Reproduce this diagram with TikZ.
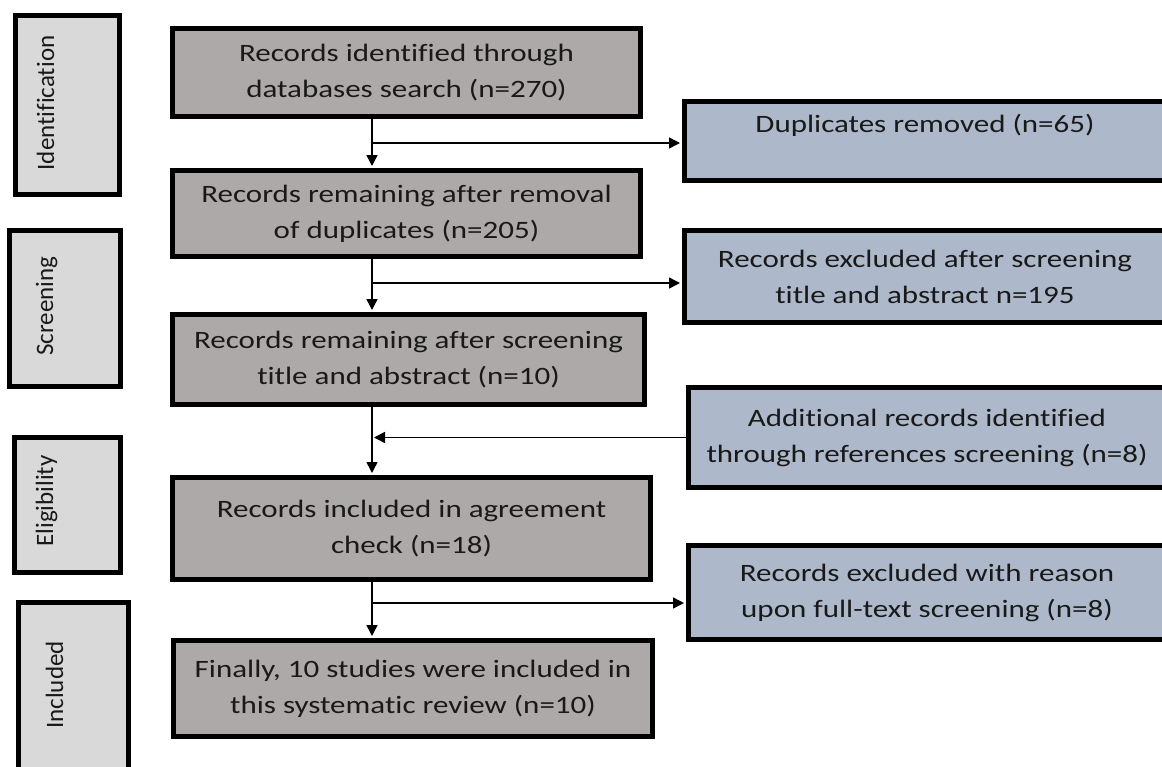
\documentclass[tikz,border=0pt]{standalone}
\usepackage{fontspec}
\setmainfont{Carlito}[FakeStretch=1.24, Ligatures=NoCommon]
\newfontfamily\phasefont{Carlito}[Ligatures=NoCommon]
\usetikzlibrary{arrows.meta}
\definecolor{graybox}{RGB}{173,169,168}
\definecolor{bluebox}{RGB}{173,185,202}
\definecolor{lightbox}{RGB}{217,217,217}
\definecolor{txt}{RGB}{25,25,25}
\tikzset{
 mainbox/.style={draw=black, line width=5pt, fill=graybox, inner sep=0pt, align=center, text=txt, font=\fontsize{25}{36}\selectfont},
 sidebox/.style={mainbox, fill=bluebox},
 phasebox/.style={draw=black, line width=5pt, fill=lightbox, inner sep=0pt},
 phaselabel/.style={rotate=90, anchor=base, text=txt, font=\phasefont\fontsize{25}{28}\selectfont, inner sep=0pt},
 arr/.style={line width=1.5pt, -{Triangle[length=11pt,width=11pt]}},
}
\begin{document}
\begin{tikzpicture}[x=1pt,y=-1pt]
\useasboundingbox (0,0) rectangle (1162,766);
\clip (0,0) rectangle (1162,766);
% phase boxes
\node[phasebox, minimum width=104pt, minimum height=179pt] (pid) at (67.5,105) {};
\node[phasebox, minimum width=111pt, minimum height=156pt] (psc) at (65,308.5) {};
\node[phasebox, minimum width=106pt, minimum height=135pt] (pel) at (67.5,505) {};
\node[phasebox, minimum width=110pt, minimum height=195pt] (pin) at (73.5,700) {};
\node[phaselabel] (lid) at (54,103) {Identification};
\node[phaselabel] (lsc) at (53,306) {Screening};
\node[phaselabel] (lel) at (53,501) {Eligibility};
\node[phaselabel] (lin) at (63,685) {Included};
% main boxes
\node[mainbox, minimum width=468pt, minimum height=88pt] (b1) at (406.5,72.5) {Records identified through\\databases search (n=270)};
\node[mainbox, minimum width=468pt, minimum height=86pt] (b2) at (406.5,213.5) {Records remaining after removal\\of duplicates (n=205)};
\node[mainbox, minimum width=472pt, minimum height=90pt] (b3) at (408.5,359.5) {Records remaining after screening\\title and abstract (n=10)};
\node[mainbox, minimum width=478pt, minimum height=102pt] (b4) at (411.5,528.5) {Records included in agreement\\check (n=18)};
\node[mainbox, minimum width=479pt, minimum height=96pt] (b5) at (413,688.5) {Finally, 10 studies were included in\\this systematic review (n=10)};
% side boxes
\node[sidebox, minimum width=481pt, minimum height=79pt] (dup) at (925,141) {Duplicates removed (n=65)\\\mbox{}};
\node[sidebox, minimum width=481pt, minimum height=92pt] (ex1) at (925,276.5) {Records excluded after screening\\title and abstract n=195};
\node[sidebox, minimum width=477pt, minimum height=100pt] (add) at (927,437.5) {Additional records identified\\through references screening (n=8)};
\node[sidebox, minimum width=477pt, minimum height=94pt] (ex2) at (927,592.5) {Records excluded with reason\\upon full-text screening (n=8)};
% connectors
\coordinate (spine) at (372,0);
\draw[arr, shorten >=2pt] (b1.south -| spine) -- (b2.north -| spine);
\draw[arr, shorten >=2pt] (b2.south -| spine) -- (b3.north -| spine);
\draw[arr, shorten >=2pt] (b3.south -| spine) -- (b4.north -| spine);
\draw[arr, shorten >=2pt] (b4.south -| spine) -- (b5.north -| spine);
\coordinate (j1) at (372,143);
\coordinate (j2) at (372,283);
\coordinate (j4) at (372,603);
\draw[arr, shorten >=2pt] (j1) -- (j1 -| dup.west);
\draw[arr, shorten >=2pt] (j2) -- (j2 -| ex1.west);
\draw[arr, shorten >=2pt] (add.west) -- (add.west -| spine);
\draw[arr, shorten >=2pt] (j4) -- (j4 -| ex2.west);
\end{tikzpicture}
\end{document}
